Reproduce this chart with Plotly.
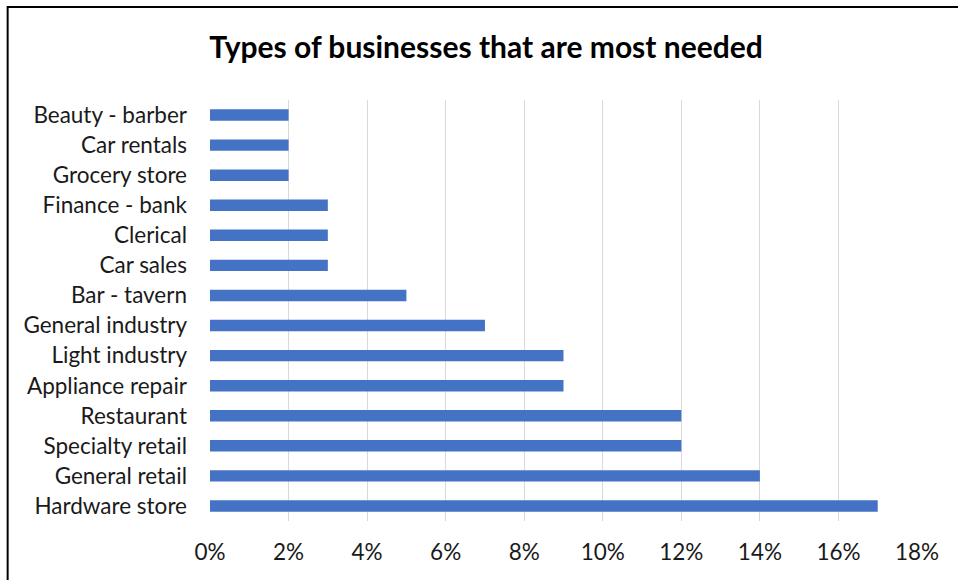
import plotly.graph_objects as go

# Business types, listed top to bottom as they appear on the chart
categories = [
    "Beauty - barber", "Car rentals", "Grocery store", "Finance - bank",
    "Clerical", "Car sales", "Bar - tavern", "General industry",
    "Light industry", "Appliance repair", "Restaurant", "Specialty retail",
    "General retail", "Hardware store",
]
# Share of respondents (%)
shares = [2, 2, 2, 3, 3, 3, 5, 7, 9, 9, 12, 12, 14, 17]
x_ticks = [0, 2, 4, 6, 8, 10, 12, 14, 16, 18]
x_tick_labels = [f"{v}%" for v in x_ticks]

W, H = 958, 580
ml, mr, mt, mb = 209.5, 41, 100, 59
pw, ph = W - ml - mr, H - mt - mb

fig = go.Figure(go.Bar(
    x=shares, y=categories, orientation="h",
    marker=dict(color="#4472C4", line=dict(width=0)),
    hoverinfo="x+y",
))

font = "Lato, Carlito, Calibri, sans-serif"
fig.update_layout(
    width=W, height=H,
    margin=dict(l=ml, r=mr, t=mt, b=mb, pad=0),
    paper_bgcolor="white", plot_bgcolor="white",
    bargap=0.62,
    showlegend=False,
    title=dict(
        text="<b>Types of businesses that are most needed</b>",
        x=486 / W, xref="container", xanchor="center",
        y=1 - 47 / H, yanchor="middle",
        font=dict(family=font, size=30, color="#000000"),
    ),
    font=dict(family=font, size=22.5, color="#1a1a1a"),
)
fig.update_xaxes(
    range=[0, 18], tickvals=x_ticks, ticktext=x_tick_labels,
    showgrid=True, gridcolor="#d9d9d9", gridwidth=1.3,
    zeroline=False, showline=False, ticks="",
    ticklabelstandoff=15,
)
fig.update_yaxes(
    autorange="reversed", showgrid=False, zeroline=False,
    showline=False, ticks="", ticklabelstandoff=22,
)

# Outer frame around the chart area
fig.add_shape(
    type="rect", xref="paper", yref="paper",
    x0=(7 - ml) / pw, x1=(W + 20 - ml) / pw,
    y0=-(mb + 20) / ph, y1=1 + (mt - 7) / ph,
    line=dict(color="black", width=2), fillcolor="rgba(0,0,0,0)",
    layer="above",
)

fig.write_html("out.html")
